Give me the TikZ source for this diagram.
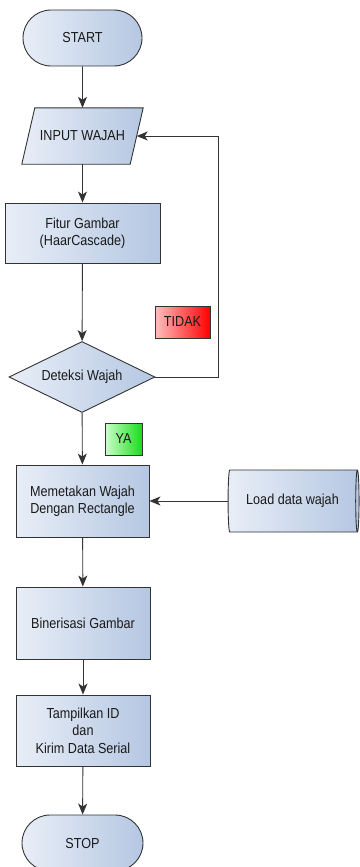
\documentclass[tikz,border=0pt]{standalone}
\usepackage{fontspec}
\setmainfont{Liberation Sans}[FakeStretch=0.87]
\usetikzlibrary{shapes.geometric,shapes.misc,arrows.meta}
\definecolor{edge}{HTML}{333333}
\definecolor{boxl}{HTML}{E8EEF7}
\definecolor{boxr}{HTML}{B5C7E2}
\tikzset{
 txt/.style={align=center,inner sep=0pt,text=black!90,font=\fontsize{14.5}{17.5}\selectfont},
 base/.style={txt,draw=edge,line width=0.9pt,left color=boxl,right color=boxr},
 term/.style={base,rounded rectangle,minimum width=119pt,minimum height=56pt},
 io/.style={txt,rectangle,minimum width=108pt,minimum height=56pt},
 proc/.style={base,rectangle,minimum height=72pt,minimum width=134pt},
 dec/.style={base,diamond,aspect=2.05,minimum width=146pt,minimum height=71pt},
 db/.style={base,cylinder,aspect=0.25,minimum height=131pt,minimum width=62pt},
 tag/.style={draw=edge,line width=0.6pt,inner sep=0pt,minimum height=32pt,
  text=black!90,font=\fontsize{14.5}{15}\selectfont},
 flow/.style={draw=edge,line width=0.9pt,-{Stealth[length=11pt,width=9pt,inset=3pt]}}}
\begin{document}
\begin{tikzpicture}[x=1pt,y=-1pt]
 \useasboundingbox (0,0) rectangle (359,867);
 \node[term] (start) at (82.5,38) {START};
 \node[io] (input) at (82.5,136) {};
 \path[base] ([xshift=6.5pt]input.north west) -- ([xshift=6.5pt]input.north east)
  -- ([xshift=-6.5pt]input.south east) -- ([xshift=-6.5pt]input.south west) -- cycle;
 \node[txt] at (input) {INPUT WAJAH};
 \node[proc,minimum width=155pt,minimum height=60pt] (fitur) at (82.5,233)
  {Fitur Gambar\\(HaarCascade)};
 \node[dec] (deteksi) at (82,377) {Deteksi Wajah};
 \node[proc,minimum width=133pt] (peta) at (82.5,501)
  {Memetakan Wajah\\Dengan Rectangle};
 \node[db] (load) at (292.5,501) {Load data wajah};
 \node[proc] (biner) at (83,623) {Binerisasi Gambar};
 \node[proc,minimum height=71pt] (tampil) at (83,730.5)
  {Tampilkan ID\\dan\\Kirim Data Serial};
 \node[term,minimum width=121pt] (stop) at (82.5,843) {STOP};
 \node[tag,left color=red!25,right color=red,minimum width=55pt] (tidak)
  at (182.5,322) {TIDAK};
 \node[tag,left color=green!20,right color=green!85!black!90,minimum width=37pt] (ya)
  at (123.5,439) {YA};
 \coordinate (balik) at (218,377);
 \draw[flow] (start) -- (input);
 \draw[flow] (input) -- (fitur);
 \draw[flow] (fitur) -- (deteksi);
 \draw[flow] (deteksi.east) -- (balik) |- (input.east);
 \draw[flow] (deteksi) -- (peta);
 \draw[flow] (load) -- (peta);
 \draw[flow] (peta) -- (biner);
 \draw[flow] (biner) -- (tampil);
 \draw[flow] (tampil) -- (stop);
\end{tikzpicture}
\end{document}
